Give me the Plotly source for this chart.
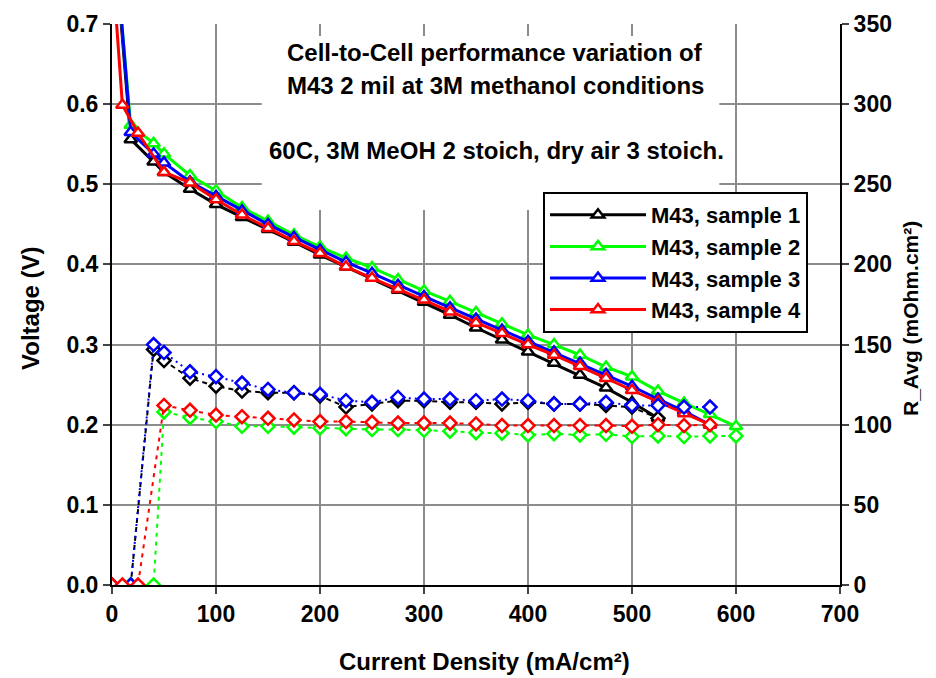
import plotly.graph_objects as go

# ---- data ----
names = ["M43, sample 1", "M43, sample 2", "M43, sample 3", "M43, sample 4"]
colors = ["#000000", "#00ff00", "#0000ff", "#ff0000"]

step = list(range(75, 601, 25))

i_s1 = [0, 18, 40, 50] + [c for c in step if c <= 525]
v_s1 = [0.84, 0.556, 0.528, 0.515, 0.494, 0.475, 0.459, 0.444, 0.428, 0.412, 0.397, 0.383,
        0.368, 0.353, 0.337, 0.321, 0.306, 0.291, 0.277, 0.262, 0.246, 0.228, 0.208]
r_s1 = [0, 0, 147, 140, 129, 124, 121, 120, 120, 118, 111, 113,
        115, 115, 114, 114, 113, 114, 113, 113, 112, 111, 104]

i_s2 = [0, 18, 40, 50] + [c for c in step if c <= 600]
v_s2 = [0.84, 0.574, 0.551, 0.538, 0.511, 0.492, 0.471, 0.454, 0.437, 0.422, 0.408, 0.396,
        0.381, 0.367, 0.354, 0.340, 0.326, 0.312, 0.300, 0.287, 0.272, 0.260, 0.242, 0.227,
        0.213, 0.198]
r_s2 = [0, 0, 0, 108, 104.5, 102, 99, 99, 98.5, 98, 97.5, 97,
        97, 96.5, 96, 95, 94.7, 93.6, 94.3, 93.6, 94, 92.6, 93, 92.6,
        93, 93]

i_s3 = [0, 18, 40, 50] + [c for c in step if c <= 575]
v_s3 = [0.85, 0.565, 0.538, 0.527, 0.503, 0.485, 0.467, 0.450, 0.434, 0.418, 0.403, 0.389,
        0.374, 0.360, 0.346, 0.332, 0.318, 0.304, 0.291, 0.277, 0.263, 0.248, 0.232, 0.217,
        0.200]
r_s3 = [0, 0, 150, 145, 133, 130, 126, 122, 120, 119, 115, 114,
        117, 116, 116, 115, 116, 115, 113, 113, 114, 112, 112, 111,
        111]

i_s4 = [0, 10, 25, 50] + [c for c in step if c <= 575]
v_s4 = [0.78, 0.599, 0.564, 0.515, 0.502, 0.481, 0.462, 0.445, 0.429, 0.414, 0.397, 0.383,
        0.369, 0.356, 0.341, 0.327, 0.314, 0.300, 0.287, 0.273, 0.258, 0.243, 0.229, 0.214,
        0.200]
r_s4 = [0, 0, 0, 112, 109, 106, 105, 104, 103, 102, 102, 101.5,
        101, 101, 101, 100.5, 99.5, 99.5, 99.5, 99.5, 99.5, 99, 100, 99.5,
        100]

currents = [i_s1, i_s2, i_s3, i_s4]
voltages = [v_s1, v_s2, v_s3, v_s4]
resist = [r_s1, r_s2, r_s3, r_s4]
r_dash = ["5px,4px", "4px,5px", "2px,4px", "4px,5px"]

x_ticks = [0, 100, 200, 300, 400, 500, 600, 700]
y_ticks = [0.0, 0.1, 0.2, 0.3, 0.4, 0.5, 0.6, 0.7]
y2_ticks = [0, 50, 100, 150, 200, 250, 300, 350]

title_lines = ["Cell-to-Cell performance variation of",
               "M43 2 mil at 3M methanol conditions",
               "60C, 3M MeOH 2 stoich, dry air 3 stoich."]
x_title = "Current Density (mA/cm²)"
y_title = "Voltage (V)"
y2_title = "R_Avg (mOhm.cm²)"

FONT = "Arial, 'Liberation Sans', sans-serif"
FS = 23

# plot-area pixel geometry
L, R, T, B = 112, 840, 24, 585
W, H = R - L, B - T


def px(xp):
    return (xp - L) / W


def py(yp):
    return (B - yp) / H


fig = go.Figure()

for n, c, x, v in zip(names, colors, currents, voltages):
    fig.add_trace(go.Scatter(
        x=x, y=v, name=n, mode="lines+markers",
        line=dict(color=c, width=3),
        marker=dict(symbol="triangle-up", size=11, color="white",
                    line=dict(color=c, width=2.5)),
    ))

for n, c, x, r, d in zip(names, colors, currents, resist, r_dash):
    fig.add_trace(go.Scatter(
        x=x, y=r, name=n + " R", mode="lines+markers", yaxis="y2",
        showlegend=False,
        line=dict(color=c, width=2, dash=d),
        marker=dict(symbol="diamond", size=10, color="white",
                    line=dict(color=c, width=2.5)),
    ))

grid = "#8c8c8c"
bold = dict(family=FONT, size=FS, weight="bold", color="black")
fig.update_layout(
    width=936, height=678,
    margin=dict(l=L, r=936 - R, t=T, b=678 - B),
    paper_bgcolor="white", plot_bgcolor="white",
    font=dict(family=FONT, size=FS, color="black"),
    xaxis=dict(
        range=[0, 700], tickvals=x_ticks, ticks="outside", ticklen=7, tickwidth=2,
        showline=True, linecolor="black", linewidth=2, automargin=False,
        showgrid=True, gridcolor=grid, gridwidth=2, zeroline=False,
        tickfont=bold,
    ),
    yaxis=dict(
        range=[0, 0.7], tickvals=y_ticks, tickformat=".1f", ticks="outside",
        ticklen=7, tickwidth=2, automargin=False,
        showline=True, linecolor="black", linewidth=2,
        showgrid=True, gridcolor=grid, gridwidth=2, zeroline=False,
        tickfont=bold,
    ),
    yaxis2=dict(
        range=[0, 350], tickvals=y2_ticks, overlaying="y", side="right",
        ticks="outside", ticklen=7, tickwidth=2, automargin=False,
        showline=True, linecolor="black", linewidth=2,
        showgrid=False, zeroline=False,
        tickfont=bold,
    ),
    legend=dict(
        x=px(543), y=py(192), xanchor="left", yanchor="top",
        bgcolor="white", bordercolor="black", borderwidth=2,
        font=dict(family=FONT, size=22, weight="bold", color="black"),
        tracegroupgap=0, itemwidth=96,
    ),
    showlegend=True,
)

# white box behind the caption (covers gridlines)
fig.add_shape(type="rect", xref="x", yref="y", x0=144, x1=584, y0=0.468, y1=0.685,
              fillcolor="white", line=dict(width=0), layer="between")

cap_pos = [(495, 52), (495, 85), (496, 150)]
for t, (cx, cy) in zip(title_lines, cap_pos):
    fig.add_annotation(xref="paper", yref="paper", x=px(cx), y=py(cy),
                       xanchor="center", yanchor="middle",
                       text="<b>" + t + "</b>", showarrow=False,
                       font=dict(family=FONT, size=24, color="black"))

# axis titles
fig.add_annotation(xref="paper", yref="paper", x=px(484), y=py(661),
                   xanchor="center", yanchor="middle",
                   text="<b>" + x_title + "</b>", showarrow=False,
                   font=dict(family=FONT, size=24, color="black"))
fig.add_annotation(xref="paper", yref="paper", x=px(30), y=py(308),
                   xanchor="center", yanchor="middle", textangle=-90,
                   text="<b>" + y_title + "</b>", showarrow=False,
                   font=dict(family=FONT, size=24, color="black"))
fig.add_annotation(xref="paper", yref="paper", x=px(910), y=py(319),
                   xanchor="center", yanchor="middle", textangle=-90,
                   text=y2_title, showarrow=False,
                   font=dict(family=FONT, size=21, color="black", weight=600))

fig.write_html("out.html")
